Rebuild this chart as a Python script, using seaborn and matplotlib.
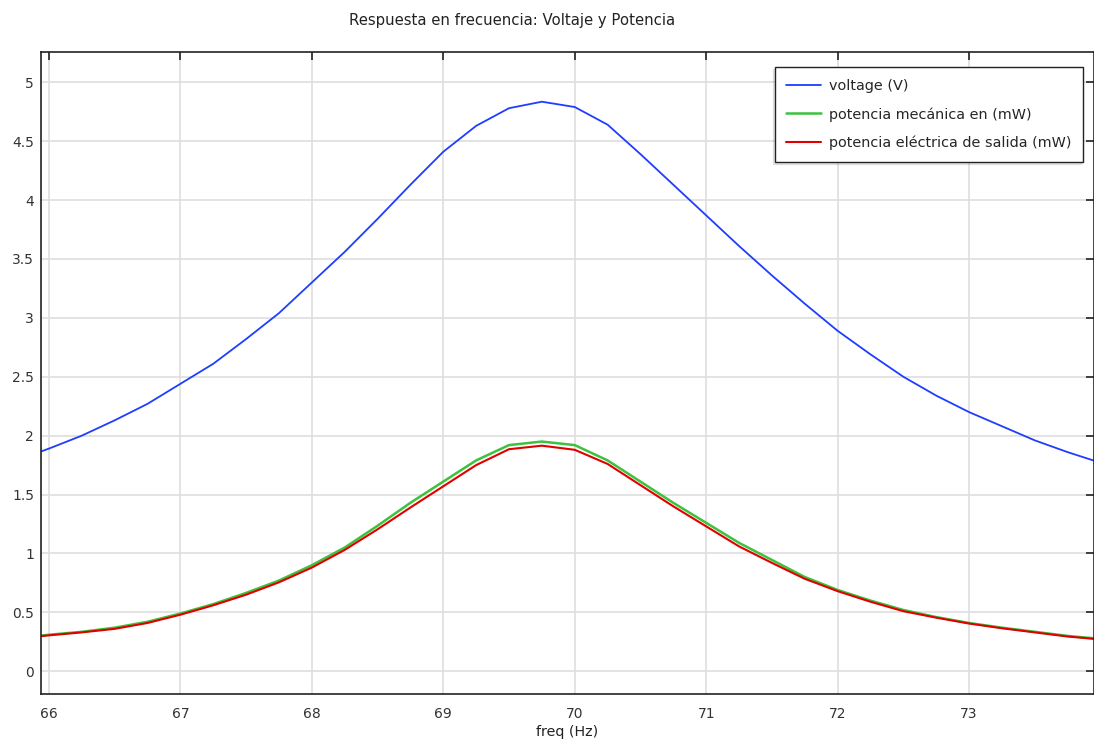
import matplotlib.pyplot as plt
import matplotlib.ticker as mticker
import seaborn as sns
import pandas as pd

# Barrido en frecuencia (Hz), paso de 0.25 Hz
freq = [65.75, 66.0, 66.25, 66.5, 66.75, 67.0, 67.25, 67.5, 67.75, 68.0,
        68.25, 68.5, 68.75, 69.0, 69.25, 69.5, 69.75, 70.0, 70.25, 70.5,
        70.75, 71.0, 71.25, 71.5, 71.75, 72.0, 72.25, 72.5, 72.75, 73.0,
        73.25, 73.5, 73.75, 74.0]

# Voltaje (V)
voltage = [1.79, 1.89, 2.00, 2.13, 2.27, 2.44, 2.61, 2.82, 3.04, 3.30,
           3.56, 3.84, 4.13, 4.41, 4.63, 4.78, 4.835, 4.79, 4.64, 4.39,
           4.13, 3.87, 3.61, 3.36, 3.12, 2.89, 2.69, 2.50, 2.34, 2.20,
           2.08, 1.96, 1.86, 1.77]

# Potencia mecanica de entrada (mW)
pot_mecanica = [0.28, 0.31, 0.335, 0.37, 0.42, 0.49, 0.57, 0.665, 0.77, 0.90,
                1.05, 1.235, 1.43, 1.61, 1.79, 1.92, 1.95, 1.92, 1.79, 1.61,
                1.43, 1.26, 1.09, 0.945, 0.80, 0.69, 0.60, 0.52, 0.46, 0.41,
                0.37, 0.335, 0.30, 0.275]

# Potencia electrica de salida (mW)
pot_electrica = [0.275, 0.305, 0.33, 0.36, 0.41, 0.48, 0.56, 0.65, 0.755, 0.88,
                 1.03, 1.205, 1.39, 1.57, 1.75, 1.885, 1.915, 1.88, 1.76, 1.58,
                 1.40, 1.23, 1.06, 0.92, 0.785, 0.68, 0.59, 0.51, 0.455, 0.405,
                 0.365, 0.33, 0.295, 0.27]

labels = ["voltage (V)", "potencia mecánica en (mW)",
          "potencia eléctrica de salida (mW)"]
colors = ["#1f3dff", "#3cc23c", "#e00000"]
widths = [1.3, 1.8, 1.5]

sns.set_theme(style="whitegrid")
plt.rcParams["font.family"] = ["DejaVu Sans"]

fig = plt.figure(figsize=(10.94, 7.40), dpi=100)
ax = fig.add_axes([41 / 1094, 46 / 740, 1053 / 1094, 642 / 740])

for name, vals, c, lw in zip(labels, [voltage, pot_mecanica, pot_electrica],
                             colors, widths):
    df = pd.DataFrame({"freq": freq, "valor": vals})
    sns.lineplot(data=df, x="freq", y="valor", color=c, linewidth=lw,
                 label=name, estimator=None, sort=False, ax=ax)

ax.set_xlim(65.94, 73.95)
ax.set_ylim(-0.193, 5.257)
ax.xaxis.set_major_locator(mticker.MultipleLocator(1))
ax.yaxis.set_major_locator(mticker.MultipleLocator(0.5))
ax.yaxis.set_major_formatter(mticker.FuncFormatter(lambda v, p: f"{v:g}"))

ax.grid(True, color="#dedede", linewidth=1.2)
for s in ax.spines.values():
    s.set_color("#222222")
    s.set_linewidth(1.2)

ax.tick_params(axis="both", direction="in", top=True, right=True,
               length=6, width=1.2, color="#222222",
               labelcolor="#333333", labelsize=10)
ax.tick_params(axis="x", pad=9)
ax.tick_params(axis="y", pad=5)

ax.set_xlabel("freq (Hz)", fontsize=10.3, color="#222222", labelpad=3)
ax.set_ylabel("")

fig.text(512 / 1094, 1 - 20 / 740, "Respuesta en frecuencia: Voltaje y Potencia",
         ha="center", va="center", fontsize=10.7, color="#222222")

leg = ax.legend(loc="upper right", bbox_to_anchor=(0.9895, 0.9766),
                fontsize=10.4, frameon=True, fancybox=False,
                shadow={"ox": -1.5, "oy": -1.5, "alpha": 0.12},
                borderpad=0.8, labelspacing=1.0, handlelength=2.4,
                handletextpad=0.55, borderaxespad=0)
leg.get_frame().set_edgecolor("#222222")
leg.get_frame().set_linewidth(1.0)
leg.get_frame().set_alpha(1)

fig.savefig("out.png", dpi=100)
